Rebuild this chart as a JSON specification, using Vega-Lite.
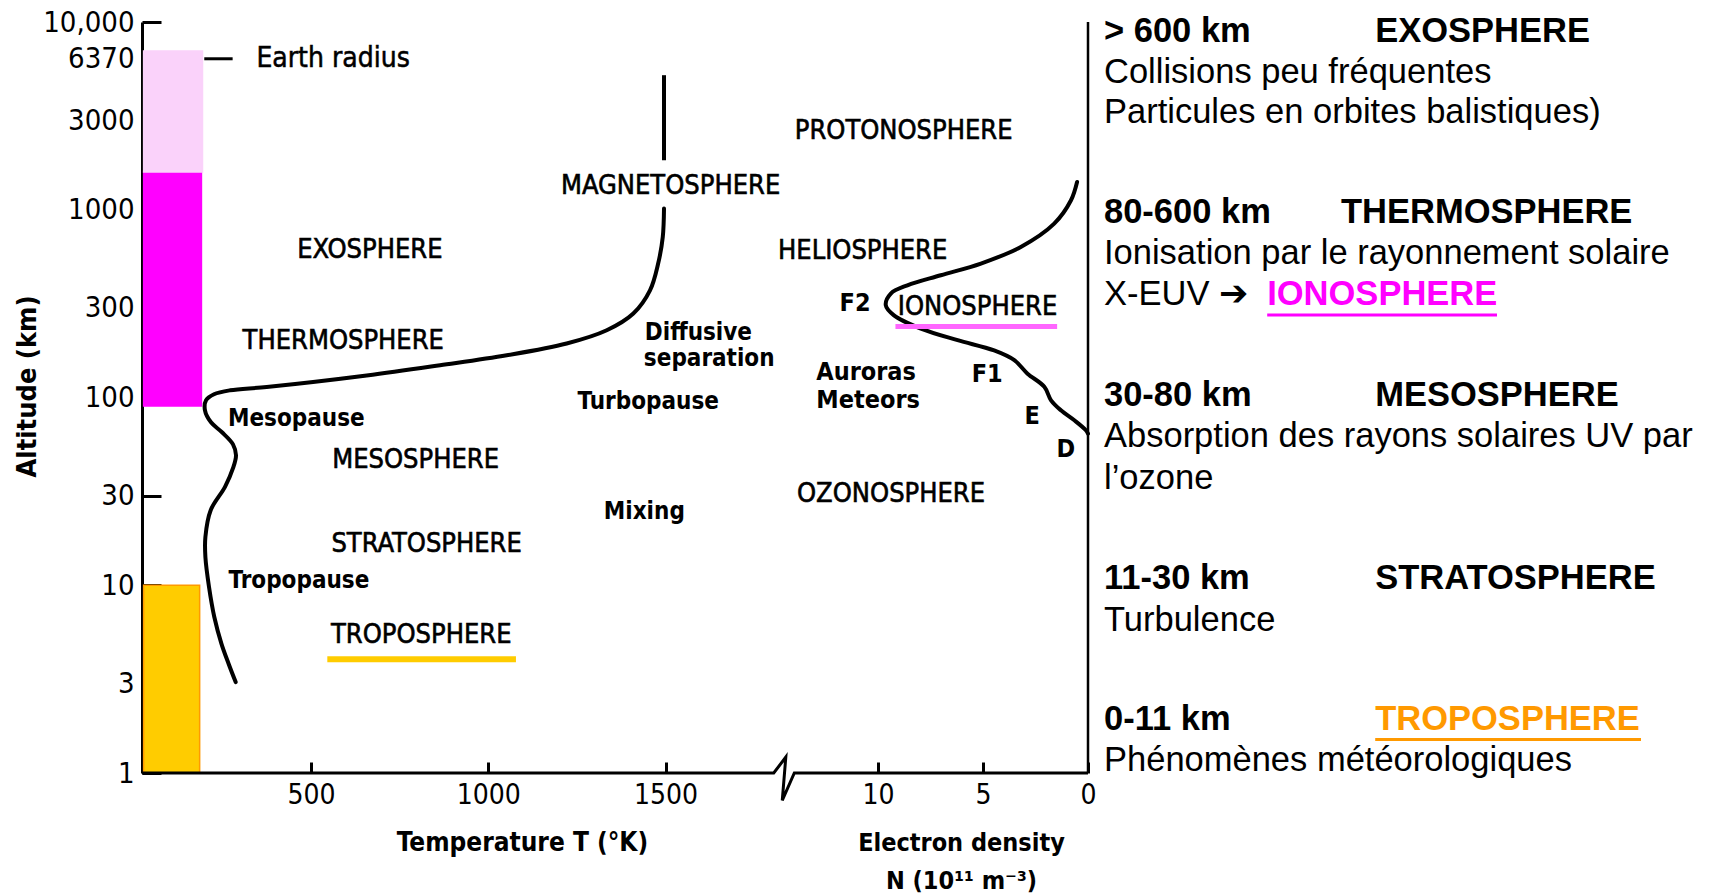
{
  "$schema": "https://vega.github.io/schema/vega-lite/v6.json",
  "background": "white",
  "padding": {"left": 13, "top": 8, "right": 0, "bottom": 0},
  "spacing": 7,
  "config": {
    "view": {"stroke": null},
    "font": "DejaVu Sans Condensed, DejaVu Sans, sans-serif",
    "axis": {"grid": false, "labelColor": "black", "titleColor": "black", "tickColor": "black", "domainColor": "black", "labelFont": "DejaVu Sans Condensed, DejaVu Sans, sans-serif", "titleFont": "DejaVu Sans Condensed, DejaVu Sans, sans-serif"}
  },
  "datasets": {
    "zones": [
      {"zone": "troposphere", "T": 28, "T2": 186, "alt": 1, "alt2": 10},
      {"zone": "thermosphere", "T": 28, "T2": 191, "alt": 90, "alt2": 1590},
      {"zone": "exosphere", "T": 28, "T2": 194, "alt": 1590, "alt2": 7000}
    ],
    "temp": [
      {"T": 287.6, "alt": 3.05}, {"T": 267.6, "alt": 3.82}, {"T": 247.3, "alt": 4.89}, {"T": 227.3, "alt": 6.77},
      {"T": 212.4, "alt": 9.78}, {"T": 202.2, "alt": 14.1}, {"T": 202.2, "alt": 18.1}, {"T": 217.1, "alt": 25.1},
      {"T": 257.5, "alt": 33.4}, {"T": 280, "alt": 42}, {"T": 288.5, "alt": 49.2}, {"T": 280, "alt": 56.3},
      {"T": 249, "alt": 65.3}, {"T": 218, "alt": 73.8}, {"T": 201, "alt": 85.5}, {"T": 204, "alt": 96.6},
      {"T": 226.5, "alt": 104}, {"T": 271.6, "alt": 109.2}, {"T": 375, "alt": 113.7}, {"T": 657, "alt": 131},
      {"T": 864, "alt": 148.5}, {"T": 1052, "alt": 167.8}, {"T": 1221, "alt": 193.8}, {"T": 1334, "alt": 228},
      {"T": 1409, "alt": 280}, {"T": 1456, "alt": 372}, {"T": 1479, "alt": 517}, {"T": 1492, "alt": 716},
      {"T": 1495.5, "alt": 1015}
    ],
    "tempUpper": [{"T": 1495.5, "alt": 1835, "alt2": 5208}],
    "baseline": [
      {"i": 0, "T": 23.4, "alt": 1}, {"i": 1, "T": 1805, "alt": 1}, {"i": 2, "T": 1839, "alt": 1.215},
      {"i": 3, "T": 1829, "alt": 0.715}, {"i": 4, "T": 1863, "alt": 1}, {"i": 5, "T": 2691.2, "alt": 1}
    ],
    "earth": [{"T": 199, "T2": 279, "alt": 6370}],
    "tropoLine": [{"T": 546, "T2": 1078, "alt": 4.03}],
    "labT": [
      {"T": 666, "alt": 609, "t": "EXOSPHERE"},
      {"T": 591, "alt": 200.5, "t": "THERMOSPHERE"},
      {"T": 795, "alt": 46.6, "t": "MESOSPHERE"},
      {"T": 826, "alt": 16.6, "t": "STRATOSPHERE"},
      {"T": 811, "alt": 5.41, "t": "TROPOSPHERE"},
      {"T": 1514, "alt": 1342, "t": "MAGNETOSPHERE"}
    ],
    "labTbold": [
      {"T": 458.5, "alt": 76.5, "t": "Mesopause"},
      {"T": 466, "alt": 10.55, "t": "Tropopause"},
      {"T": 1451, "alt": 94.8, "t": "Turbopause"},
      {"T": 1440, "alt": 24.5, "t": "Mixing"},
      {"T": 1592.5, "alt": 220.3, "t": "Diffusive"},
      {"T": 1623, "alt": 159.8, "t": "separation"}
    ],
    "earthLab": [{"T": 346, "alt": 6370, "t": "Earth  radius"}],
    "dens": [
      {"N": 0.52, "alt": 1406}, {"N": 0.81, "alt": 1124}, {"N": 1.61, "alt": 844}, {"N": 3.2, "alt": 634},
      {"N": 5.1, "alt": 517}, {"N": 7.01, "alt": 448}, {"N": 8.6, "alt": 396}, {"N": 9.39, "alt": 358},
      {"N": 9.63, "alt": 310}, {"N": 9.24, "alt": 274}, {"N": 7.96, "alt": 233}, {"N": 6.21, "alt": 202},
      {"N": 4.47, "alt": 178}, {"N": 3.51, "alt": 158}, {"N": 2.88, "alt": 134}, {"N": 2.08, "alt": 114},
      {"N": 1.76, "alt": 96.6}, {"N": 1.29, "alt": 85.5}, {"N": 0.65, "alt": 75.6}, {"N": 0.1, "alt": 66.9},
      {"N": 0, "alt": 64.2}
    ],
    "densAxis": [{"N": 0}],
    "ionoLine": [{"N": 9.17, "N2": 1.47, "alt": 238.7}],
    "labN": [
      {"N": 8.78, "alt": 2623, "t": "PROTONOSPHERE"},
      {"N": 10.73, "alt": 601, "t": "HELIOSPHERE"},
      {"N": 5.26, "alt": 304, "t": "IONOSPHERE"},
      {"N": 9.38, "alt": 30.8, "t": "OZONOSPHERE"}
    ],
    "labNbold": [
      {"N": 11.09, "alt": 320, "t": "F2"},
      {"N": 10.57, "alt": 136, "t": "Auroras"},
      {"N": 10.47, "alt": 97.3, "t": "Meteors"},
      {"N": 4.8, "alt": 134, "t": "F1"},
      {"N": 2.66, "alt": 79.7, "t": "E"},
      {"N": 1.05, "alt": 53.3, "t": "D"}
    ],
    "panelReg": [
      {"col": 0, "line": 1.23, "t": "Collisions peu fréquentes"},
      {"col": 0, "line": 2.2, "t": "Particules en orbites balistiques)"},
      {"col": 0, "line": 5.6, "t": "Ionisation par le rayonnement solaire"},
      {"col": 0, "line": 6.59, "t": "X-EUV ➔"},
      {"col": 0, "line": 10.01, "t": "Absorption des rayons solaires UV par"},
      {"col": 0, "line": 11.01, "t": "l’ozone"},
      {"col": 0, "line": 14.43, "t": "Turbulence"},
      {"col": 0, "line": 17.82, "t": "Phénomènes météorologiques"}
    ],
    "panelBold": [
      {"col": 0, "line": 0.23, "t": "> 600 km"},
      {"col": 45.2, "line": 0.23, "t": "EXOSPHERE"},
      {"col": 0, "line": 4.6, "t": "80-600 km"},
      {"col": 39.5, "line": 4.6, "t": "THERMOSPHERE"},
      {"col": 0, "line": 9.01, "t": "30-80 km"},
      {"col": 45.2, "line": 9.01, "t": "MESOSPHERE"},
      {"col": 0, "line": 13.43, "t": "11-30 km"},
      {"col": 45.2, "line": 13.43, "t": "STRATOSPHERE"},
      {"col": 0, "line": 16.82, "t": "0-11 km"}
    ],
    "panelColor": [
      {"col": 27.2, "line": 6.59, "t": "IONOSPHERE", "name": "ionosphere"},
      {"col": 45.2, "line": 16.82, "t": "TROPOSPHERE", "name": "troposphere"}
    ],
    "panelLine": [
      {"col": 27.2, "col2": 65.5, "line": 7.06, "name": "ionosphere"},
      {"col": 45.2, "col2": 89.5, "line": 17.29, "name": "troposphere"}
    ]
  },
  "resolve": {"scale": {"x": "independent", "y": "independent"}},
  "hconcat": [
    {
      "width": 946,
      "height": 751,
      "resolve": {"scale": {"x": "independent"}},
      "layer": [
        {
          "layer": [
            {
              "data": {"name": "zones"},
              "mark": {"type": "rect", "strokeWidth": 1.5},
              "encoding": {
                "x": {"field": "T", "type": "quantitative", "scale": {"domain": [23.4, 2691.2], "nice": false, "zero": false},
                  "axis": {"values": [500, 1000, 1500], "format": "d", "domain": false, "tickSize": -11, "tickWidth": 3, "labelFontSize": 28, "labelPadding": 19, "labelFlush": false, "labelOverlap": false,
                    "title": "Temperature  T (°K)", "titleFontSize": 26, "titleFontWeight": "bold", "titleX": 380, "titleY": 77, "titleBaseline": "alphabetic", "titleAlign": "center"}},
                "x2": {"field": "T2"},
                "y": {"field": "alt", "type": "quantitative", "scale": {"type": "log", "domain": [1, 10000], "nice": false},
                  "axis": {"values": [1, 3, 10, 30, 100, 300, 1000, 3000, 6370, 10000],
                    "labelExpr": "datum.value >= 10000 ? format(datum.value, ',') : format(datum.value, 'd')",
                    "domainWidth": 3, "tickSize": -19, "tickWidth": 3, "labelFontSize": 29, "labelPadding": 27, "labelOverlap": false, "labelFlush": false,
                    "title": "Altitude  (km)", "titleFontSize": 27, "titleFontWeight": "bold", "titleX": -115, "titleY": 364, "titleAngle": -90, "titleBaseline": "middle", "titleAlign": "center"}},
                "y2": {"field": "alt2"},
                "fill": {"field": "zone", "type": "nominal", "scale": {"domain": ["troposphere", "thermosphere", "exosphere"], "range": ["#FFCC00", "#FF00FF", "#FAD2FA"]}, "legend": null},
                "stroke": {"field": "zone", "type": "nominal", "scale": {"domain": ["troposphere", "thermosphere", "exosphere"], "range": ["#FF9900", "#FF00FF", "#FAD2FA"]}, "legend": null}
              }
            },
            {
              "data": {"name": "temp"},
              "mark": {"type": "line", "interpolate": "catmull-rom", "strokeWidth": 4, "color": "black", "strokeCap": "round"},
              "encoding": {
                "x": {"field": "T", "type": "quantitative", "scale": {"domain": [23.4, 2691.2], "nice": false, "zero": false}},
                "y": {"field": "alt", "type": "quantitative", "scale": {"type": "log", "domain": [1, 10000], "nice": false}},
                "order": {"field": "alt", "type": "quantitative"}
              }
            },
            {
              "data": {"name": "tempUpper"},
              "mark": {"type": "rule", "strokeWidth": 4, "color": "black"},
              "encoding": {
                "x": {"field": "T", "type": "quantitative", "scale": {"domain": [23.4, 2691.2], "nice": false, "zero": false}},
                "y": {"field": "alt", "type": "quantitative", "scale": {"type": "log", "domain": [1, 10000], "nice": false}},
                "y2": {"field": "alt2"}
              }
            },
            {
              "data": {"name": "baseline"},
              "mark": {"type": "line", "strokeWidth": 3, "color": "black"},
              "encoding": {
                "x": {"field": "T", "type": "quantitative", "scale": {"domain": [23.4, 2691.2], "nice": false, "zero": false}},
                "y": {"field": "alt", "type": "quantitative", "scale": {"type": "log", "domain": [1, 10000], "nice": false}},
                "order": {"field": "i", "type": "quantitative"}
              }
            },
            {
              "data": {"name": "earth"},
              "mark": {"type": "rule", "strokeWidth": 3, "color": "black"},
              "encoding": {
                "x": {"field": "T", "type": "quantitative", "scale": {"domain": [23.4, 2691.2], "nice": false, "zero": false}},
                "x2": {"field": "T2"},
                "y": {"field": "alt", "type": "quantitative", "scale": {"type": "log", "domain": [1, 10000], "nice": false}}
              }
            },
            {
              "data": {"name": "tropoLine"},
              "mark": {"type": "rule", "strokeWidth": 6, "color": "#FFCC00"},
              "encoding": {
                "x": {"field": "T", "type": "quantitative", "scale": {"domain": [23.4, 2691.2], "nice": false, "zero": false}},
                "x2": {"field": "T2"},
                "y": {"field": "alt", "type": "quantitative", "scale": {"type": "log", "domain": [1, 10000], "nice": false}}
              }
            },
            {
              "data": {"name": "labT"},
              "mark": {"type": "text", "fontSize": 27, "align": "center", "baseline": "middle", "color": "black", "stroke": "black", "strokeWidth": 0.6},
              "encoding": {
                "x": {"field": "T", "type": "quantitative", "scale": {"domain": [23.4, 2691.2], "nice": false, "zero": false}},
                "y": {"field": "alt", "type": "quantitative", "scale": {"type": "log", "domain": [1, 10000], "nice": false}},
                "text": {"field": "t"}
              }
            },
            {
              "data": {"name": "labTbold"},
              "mark": {"type": "text", "fontSize": 24, "fontWeight": "bold", "align": "center", "baseline": "middle", "color": "black"},
              "encoding": {
                "x": {"field": "T", "type": "quantitative", "scale": {"domain": [23.4, 2691.2], "nice": false, "zero": false}},
                "y": {"field": "alt", "type": "quantitative", "scale": {"type": "log", "domain": [1, 10000], "nice": false}},
                "text": {"field": "t"}
              }
            },
            {
              "data": {"name": "earthLab"},
              "mark": {"type": "text", "fontSize": 28, "align": "left", "baseline": "middle", "color": "black", "stroke": "black", "strokeWidth": 0.5},
              "encoding": {
                "x": {"field": "T", "type": "quantitative", "scale": {"domain": [23.4, 2691.2], "nice": false, "zero": false}},
                "y": {"field": "alt", "type": "quantitative", "scale": {"type": "log", "domain": [1, 10000], "nice": false}},
                "text": {"field": "t"}
              }
            }
          ]
        },
        {
          "layer": [
            {
              "data": {"name": "dens"},
              "mark": {"type": "line", "interpolate": "catmull-rom", "strokeWidth": 4, "color": "black", "strokeCap": "round"},
              "encoding": {
                "x": {"field": "N", "type": "quantitative", "scale": {"domain": [0, 45.05], "reverse": true, "nice": false, "zero": false},
                  "axis": {"orient": "bottom", "values": [10, 5, 0], "domain": false, "tickSize": -11, "tickWidth": 3, "labelFontSize": 28, "labelPadding": 19, "labelFlush": false, "labelOverlap": false,
                    "title": ["Electron density", "N (10¹¹ m⁻³)"], "titleFontSize": 25, "titleFontWeight": "bold", "titleX": 819, "titleY": 77, "titleBaseline": "alphabetic", "titleAlign": "center", "titleLineHeight": 38}},
                "y": {"field": "alt", "type": "quantitative", "scale": {"type": "log", "domain": [1, 10000], "nice": false}},
                "order": {"field": "alt", "type": "quantitative"}
              }
            },
            {
              "data": {"name": "densAxis"},
              "mark": {"type": "rule", "strokeWidth": 2.5, "color": "black"},
              "encoding": {
                "x": {"field": "N", "type": "quantitative", "scale": {"domain": [0, 45.05], "reverse": true, "nice": false, "zero": false}}
              }
            },
            {
              "data": {"name": "ionoLine"},
              "mark": {"type": "rule", "strokeWidth": 5, "color": "#FF66FF"},
              "encoding": {
                "x": {"field": "N", "type": "quantitative", "scale": {"domain": [0, 45.05], "reverse": true, "nice": false, "zero": false}},
                "x2": {"field": "N2"},
                "y": {"field": "alt", "type": "quantitative", "scale": {"type": "log", "domain": [1, 10000], "nice": false}}
              }
            },
            {
              "data": {"name": "labN"},
              "mark": {"type": "text", "fontSize": 27, "align": "center", "baseline": "middle", "color": "black", "stroke": "black", "strokeWidth": 0.6},
              "encoding": {
                "x": {"field": "N", "type": "quantitative", "scale": {"domain": [0, 45.05], "reverse": true, "nice": false, "zero": false}},
                "y": {"field": "alt", "type": "quantitative", "scale": {"type": "log", "domain": [1, 10000], "nice": false}},
                "text": {"field": "t"}
              }
            },
            {
              "data": {"name": "labNbold"},
              "mark": {"type": "text", "fontSize": 25, "fontWeight": "bold", "align": "center", "baseline": "middle", "color": "black"},
              "encoding": {
                "x": {"field": "N", "type": "quantitative", "scale": {"domain": [0, 45.05], "reverse": true, "nice": false, "zero": false}},
                "y": {"field": "alt", "type": "quantitative", "scale": {"type": "log", "domain": [1, 10000], "nice": false}},
                "text": {"field": "t"}
              }
            }
          ]
        }
      ]
    },
    {
      "width": 600,
      "height": 751,
      "layer": [
        {
          "data": {"name": "panelReg"},
          "mark": {"type": "text", "font": "Liberation Sans, Arial, sans-serif", "fontSize": 34.5, "align": "left", "baseline": "middle", "color": "black"},
          "encoding": {
            "x": {"field": "col", "type": "quantitative", "scale": {"domain": [0, 100], "nice": false, "zero": false}, "axis": null},
            "y": {"field": "line", "type": "quantitative", "scale": {"domain": [0, 18.1], "reverse": true, "nice": false, "zero": false}, "axis": null},
            "text": {"field": "t"}
          }
        },
        {
          "data": {"name": "panelBold"},
          "mark": {"type": "text", "font": "Liberation Sans, Arial, sans-serif", "fontSize": 34.5, "fontWeight": "bold", "align": "left", "baseline": "middle", "color": "black"},
          "encoding": {
            "x": {"field": "col", "type": "quantitative", "scale": {"domain": [0, 100], "nice": false, "zero": false}, "axis": null},
            "y": {"field": "line", "type": "quantitative", "scale": {"domain": [0, 18.1], "reverse": true, "nice": false, "zero": false}, "axis": null},
            "text": {"field": "t"}
          }
        },
        {
          "data": {"name": "panelColor"},
          "mark": {"type": "text", "font": "Liberation Sans, Arial, sans-serif", "fontSize": 34.5, "fontWeight": "bold", "align": "left", "baseline": "middle"},
          "encoding": {
            "x": {"field": "col", "type": "quantitative", "scale": {"domain": [0, 100], "nice": false, "zero": false}, "axis": null},
            "y": {"field": "line", "type": "quantitative", "scale": {"domain": [0, 18.1], "reverse": true, "nice": false, "zero": false}, "axis": null},
            "text": {"field": "t"},
            "color": {"field": "name", "type": "nominal", "scale": {"domain": ["ionosphere", "troposphere"], "range": ["#FF00FF", "#FF9900"]}, "legend": null}
          }
        },
        {
          "data": {"name": "panelLine"},
          "mark": {"type": "rule", "strokeWidth": 3},
          "encoding": {
            "x": {"field": "col", "type": "quantitative", "scale": {"domain": [0, 100], "nice": false, "zero": false}, "axis": null},
            "x2": {"field": "col2"},
            "y": {"field": "line", "type": "quantitative", "scale": {"domain": [0, 18.1], "reverse": true, "nice": false, "zero": false}, "axis": null},
            "color": {"field": "name", "type": "nominal", "scale": {"domain": ["ionosphere", "troposphere"], "range": ["#FF00FF", "#FF9900"]}, "legend": null}
          }
        }
      ]
    }
  ]
}
